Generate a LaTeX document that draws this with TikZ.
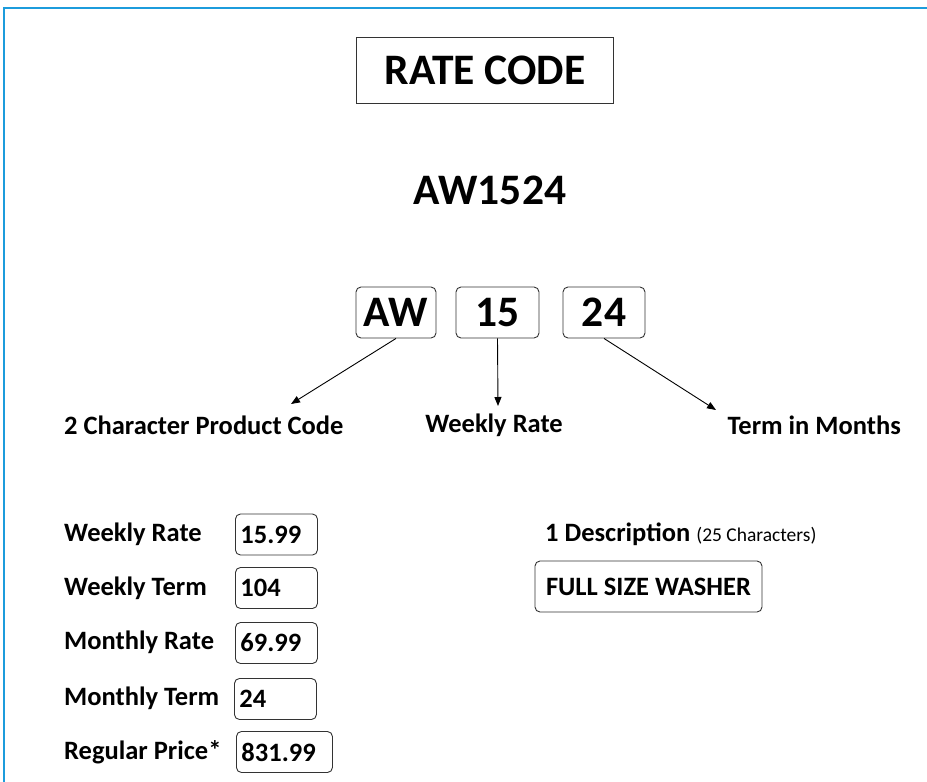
\documentclass[tikz,border=0pt]{standalone}
\usepackage{fontspec}
\setmainfont{Carlito}
\usepackage{xcolor}
\usetikzlibrary{arrows.meta, positioning}
\definecolor{framebl}{RGB}{28,156,220}

\begin{document}
\begin{tikzpicture}[
    x=1pt, y=-1pt,
    bigtxt/.style={font=\fontsize{43.5}{50}\selectfont\bfseries},
    lbl/.style={font=\fontsize{26.5}{31}\selectfont\bfseries, inner sep=0pt},
    partbox/.style={rectangle, draw=black!80, rounded corners=5pt, line width=0.9pt, minimum height=51pt, inner sep=0pt, font=\fontsize{43.5}{50}\selectfont\bfseries},
    fieldbox/.style={rectangle, draw=black!80, rounded corners=5pt, line width=0.9pt, minimum height=41pt, inner xsep=5pt, inner ysep=0pt, align=left, anchor=west, font=\fontsize{26.5}{31}\selectfont\bfseries},
    arr/.style={-{Triangle[length=9pt, width=7pt]}, line width=0.9pt}
]
\useasboundingbox (0,0) rectangle (927,782);
\draw[framebl, line width=2pt] (4,782) -- (4,8) -- (927,8);

\node[draw=black!80, line width=0.9pt, minimum width=257pt, minimum height=66pt, bigtxt] (title) at (485,70) {RATE CODE};
\node[bigtxt] (code) at (490,190) {AW1524};

\node[partbox, minimum width=80pt] (aw) at (396,312.5) {AW};
\node[partbox, minimum width=83pt] (wk) at (497.5,312.5) {15};
\node[partbox, minimum width=82pt] (tm) at (604,312.5) {24};

\node[lbl, anchor=west] (prod) at (64,425) {2 Character Product Code};
\node[lbl] (rate) at (494,425) {Weekly Rate};
\node[lbl, anchor=east] (term) at (901,425) {Term in Months};

\coordinate (prodtip) at (291,404);
\coordinate (ratetip) at (498,406);
\coordinate (termtip) at (716,410);
\draw[arr] (aw.south) -- (prodtip);
\draw[arr] (wk.south) -- (ratetip);
\draw[arr] (tm.south) -- (termtip);

% fields
\node[lbl, anchor=west] (wrl) at (64,534) {Weekly Rate};
\node[lbl, anchor=west] (wtl) at (64,588) {Weekly Term};
\node[lbl, anchor=west] (mrl) at (64,642) {Monthly Rate};
\node[lbl, anchor=west] (mtl) at (64,698) {Monthly Term};
\node[lbl, anchor=west] (rpl) at (64,752) {Regular Price*};

\node[fieldbox, text width=72pt] (wrv) at (235,534.5) {15.99};
\node[fieldbox, text width=72pt] (wtv) at (235,588) {104};
\node[fieldbox, text width=72pt] (mrv) at (235,643) {69.99};
\node[fieldbox, text width=72pt] (mtv) at (234,699) {24};
\node[fieldbox, text width=86pt] (rpv) at (236,752) {831.99};

\node[lbl, anchor=west] (desc) at (545,534) {1 Description \fontsize{19.5}{23}\selectfont\mdseries(25 Characters)};
\node[partbox, minimum width=227pt, font=\fontsize{26.5}{31}\selectfont\bfseries] (descv) at (648.5,586.5) {FULL SIZE WASHER};
\end{tikzpicture}
\end{document}
